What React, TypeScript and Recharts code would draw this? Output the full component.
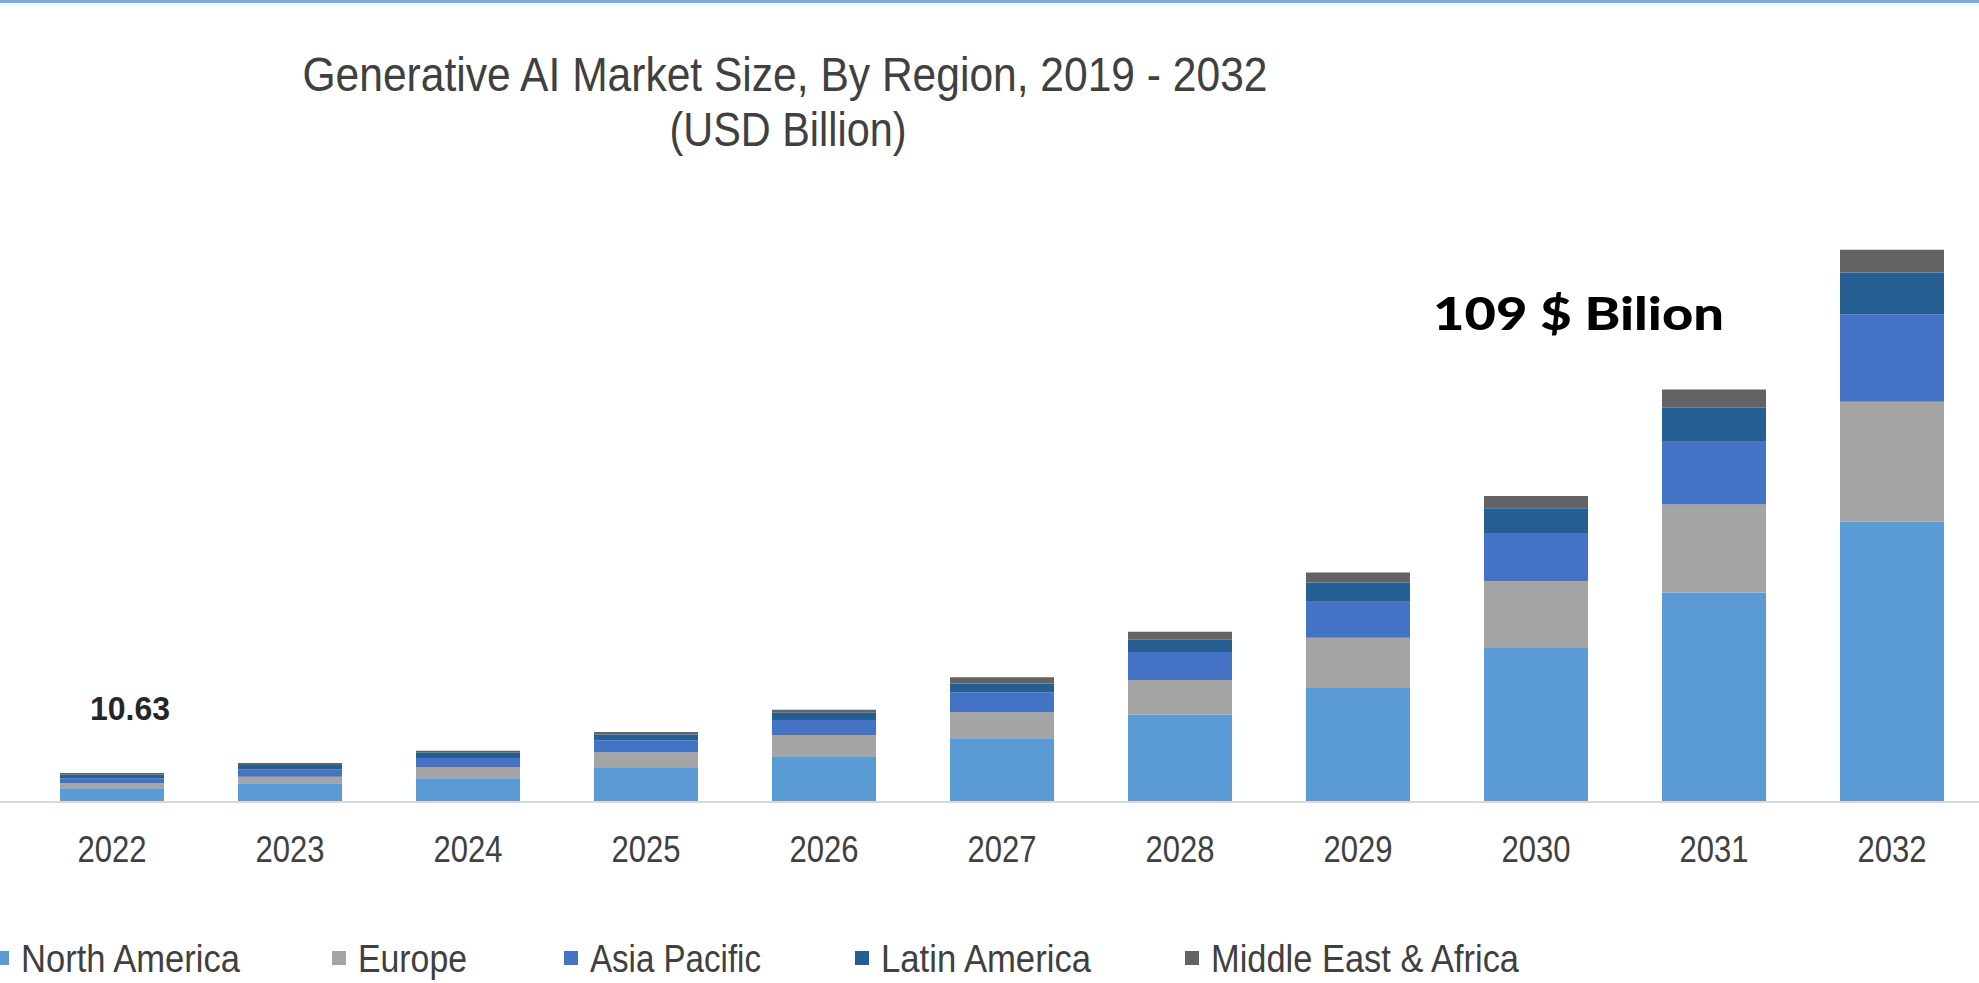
import React from "react";
import { BarChart, Bar, XAxis, YAxis, Legend } from "recharts";

const years = ["2022", "2023", "2024", "2025", "2026", "2027", "2028", "2029", "2030", "2031", "2032"];
const northAmerica = [2.7, 3.7, 4.7, 6.7, 8.9, 12.6, 17.2, 22.5, 30.4, 41.3, 55.3];
const europe = [1.0, 1.3, 2.2, 3.1, 4.3, 5.1, 6.9, 9.9, 13.2, 17.4, 23.7];
const asiaPacific = [1.0, 1.4, 1.8, 2.4, 3.0, 3.9, 5.5, 7.1, 9.5, 12.4, 17.2];
const latinAmerica = [0.7, 0.9, 1.0, 1.1, 1.4, 1.8, 2.4, 3.8, 4.9, 6.7, 8.3];
const middleEastAfrica = [0.3, 0.4, 0.4, 0.5, 0.6, 1.2, 1.6, 2.0, 2.4, 3.6, 4.5];

const titleLines = ["Generative AI Market Size, By Region, 2019 - 2032", "(USD Billion)"];
const firstYearLabel = "10.63";
const lastYearLabel = "109 $ Bilion";

const series = [
  { key: "na", name: "North America", color: "#5B9BD5", values: northAmerica },
  { key: "eu", name: "Europe", color: "#A5A5A5", values: europe },
  { key: "ap", name: "Asia Pacific", color: "#4472C4", values: asiaPacific },
  { key: "la", name: "Latin America", color: "#255E91", values: latinAmerica },
  { key: "mea", name: "Middle East & Africa", color: "#636363", values: middleEastAfrica },
];

const data = years.map((year, i) => {
  const row: Record<string, string | number> = { year };
  series.forEach((s) => (row[s.key] = s.values[i]));
  return row;
});

// the original uses a condensed Calibri-like face; squeeze Liberation Sans to fit
const FONT = "'Liberation Sans', Arial, sans-serif";
const TEXT = "#404040";

// legend layout (x of each swatch, width of each label)
const legendX = [-5, 332, 564, 855, 1185];
const legendW = [219, 109, 171, 210, 308];

function YearTick(props: any) {
  const { x, y, payload } = props;
  return (
    <text x={x} y={y} dy={27} textAnchor="middle" fill={TEXT} fontFamily={FONT} fontSize={36} textLength={69} lengthAdjust="spacingAndGlyphs">
      {payload.value}
    </text>
  );
}

function LegendRow() {
  return (
    <svg width={1979} height={44} style={{ display: "block", overflow: "visible" }}>
      {series.map((s, i) => (
        <g key={s.key}>
          <rect x={legendX[i]} y={14} width={14} height={14} fill={s.color} />
          <text x={legendX[i] + 26} y={35} fontFamily={FONT} fontSize={38} fill={TEXT} textLength={legendW[i]} lengthAdjust="spacingAndGlyphs">
            {s.name}
          </text>
        </g>
      ))}
    </svg>
  );
}

export default function App() {
  return (
    <div style={{ position: "absolute", left: 0, top: 0, width: 1979, height: 983, overflow: "hidden", background: "#fff" }}>
      <div style={{ position: "absolute", left: 0, top: 0, width: 1979, height: 3, background: "#7FA9DA" }} />
      <div style={{ position: "absolute", left: 0, top: 3, width: 1979, height: 4, background: "#EAF8FF" }} />
      <BarChart width={1981} height={983} data={data} margin={{ top: 194, right: 0, left: 0, bottom: 121 }} barSize={104}>
        <XAxis
          dataKey="year"
          height={60}
          padding={{ left: 23, right: 0 }}
          axisLine={{ stroke: "#D9D9D9", strokeWidth: 2 }}
          tickLine={false}
          tickSize={0}
          tickMargin={33}
          tick={<YearTick />}
          interval={0}
        />
        <YAxis hide domain={[0, 120]} />
        {series.map((s) => (
          <Bar key={s.key} dataKey={s.key} name={s.name} stackId="a" fill={s.color} isAnimationActive={false} />
        ))}
        <Legend verticalAlign="middle" align="center" layout="horizontal" wrapperStyle={{ top: 937, left: 0, width: 1979 }} content={() => <LegendRow />} />
      </BarChart>
      <svg width={1979} height={983} style={{ position: "absolute", left: 0, top: 0, pointerEvents: "none" }}>
        <text x={785} y={91} textAnchor="middle" fontFamily={FONT} fontSize={48} fill={TEXT} textLength={965} lengthAdjust="spacingAndGlyphs">
          {titleLines[0]}
        </text>
        <text x={788} y={146} textAnchor="middle" fontFamily={FONT} fontSize={48} fill={TEXT} textLength={237} lengthAdjust="spacingAndGlyphs">
          {titleLines[1]}
        </text>
        <text x={130} y={720} textAnchor="middle" fontFamily={FONT} fontSize={33} fontWeight="bold" fill="#262626" textLength={80} lengthAdjust="spacingAndGlyphs">
          {firstYearLabel}
        </text>
        <text x={1433} y={330} fontFamily="Lato, 'Open Sans', sans-serif" fontSize={45} fontWeight={900} fill="#000" textLength={291} lengthAdjust="spacingAndGlyphs">
          {lastYearLabel}
        </text>
      </svg>
    </div>
  );
}
